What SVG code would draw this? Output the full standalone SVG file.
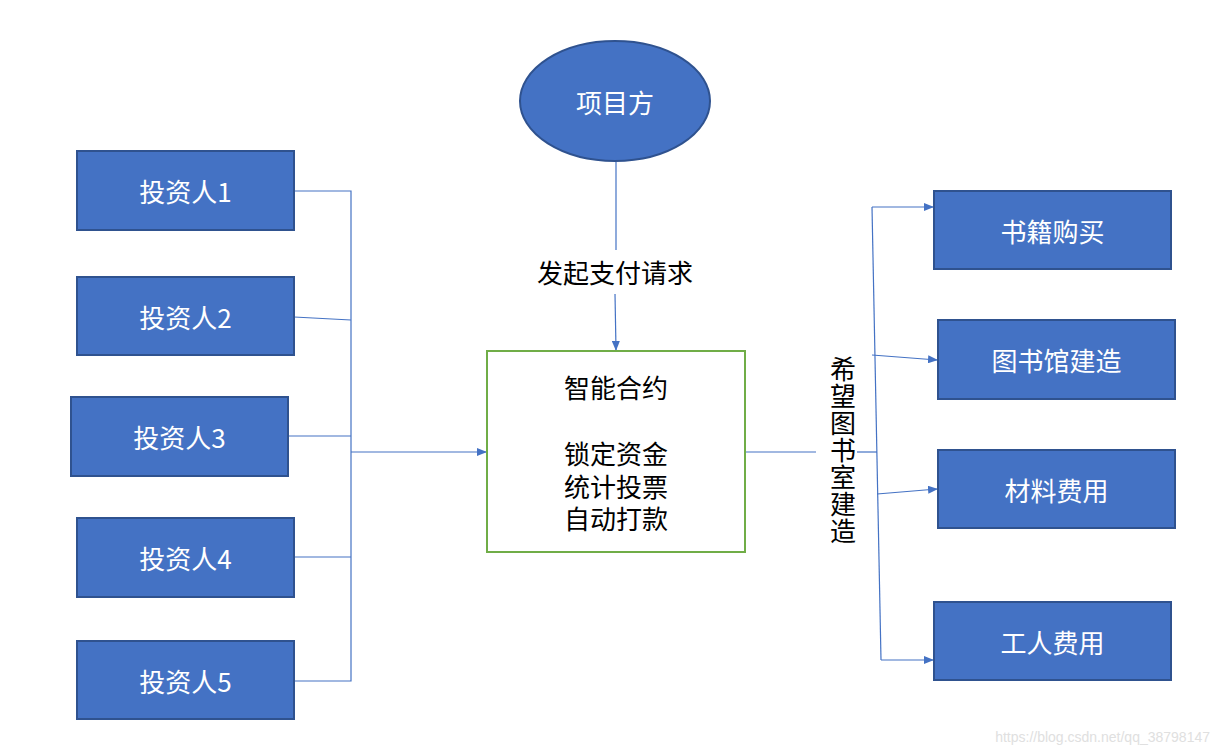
<svg xmlns="http://www.w3.org/2000/svg" width="1220" height="755" viewBox="0 0 1220 755">
<defs>
<style>
.box{fill:#4472C4;stroke:#2F528F;stroke-width:2}
.wt{fill:#fff;font-family:"Noto Sans CJK SC","Liberation Sans",sans-serif;font-size:26px;text-anchor:middle;dominant-baseline:central}
.bt{fill:#000;font-family:"Noto Sans CJK SC","Liberation Sans",sans-serif;font-size:26px;text-anchor:middle;dominant-baseline:central}
.ln{stroke:#4472C4;stroke-width:1.2;fill:none}
.arr{marker-end:url(#ah)}
</style>
<marker id="ah" markerWidth="10" markerHeight="8" refX="9" refY="4" orient="auto" markerUnits="userSpaceOnUse">
<path d="M0,0 L10,4 L0,8 Z" fill="#4472C4"/>
</marker>
</defs>
<rect width="1220" height="755" fill="#fff"/>
<g id="connectors">
<path class="ln" d="M294,191 H351 V681 H294"/>
<path class="ln" d="M294,317 L351,320"/>
<path class="ln" d="M288,436 H351"/>
<path class="ln" d="M294,557 H351"/>
<path class="ln arr" d="M351,452 H486"/>
<path class="ln" d="M616,162 V250"/>
<path class="ln arr" d="M615,294 L616,350"/>
<path class="ln" d="M746,452 H816"/>
<path class="ln" d="M857,452 H877"/>
<path class="ln" d="M872,207 L881,660"/>
<path class="ln arr" d="M872,207 H933"/>
<path class="ln arr" d="M872,355 L937,360"/>
<path class="ln arr" d="M877,494 L937,489"/>
<path class="ln arr" d="M881,660 H933"/>
</g>
<g id="inv1"><rect class="box" x="77" y="151" width="217" height="79"/><text class="wt" x="185.500" y="190">投资人1</text></g>
<g id="inv2"><rect class="box" x="77" y="277" width="217" height="78"/><text class="wt" x="185.500" y="316">投资人2</text></g>
<g id="inv3"><rect class="box" x="71" y="397" width="217" height="79"/><text class="wt" x="179.500" y="436">投资人3</text></g>
<g id="inv4"><rect class="box" x="77" y="518" width="217" height="79"/><text class="wt" x="185.500" y="557">投资人4</text></g>
<g id="inv5"><rect class="box" x="77" y="641" width="217" height="78"/><text class="wt" x="185.500" y="680">投资人5</text></g>
<g id="project"><ellipse cx="615" cy="101" rx="95" ry="60" fill="#4472C4" stroke="#2F528F" stroke-width="2"/><text class="wt" x="615" y="101">项目方</text></g>
<g id="label-request"><text class="bt" x="615" y="271">发起支付请求</text></g>
<g id="contract">
<rect x="487" y="351" width="258" height="201" fill="#fff" stroke="#70AD47" stroke-width="2"/>
<text class="bt" x="616" y="386">智能合约</text>
<text class="bt" x="616" y="452">锁定资金<tspan x="616" dy="33">统计投票</tspan><tspan x="616" dy="32">自动打款</tspan></text>
</g>
<g id="label-build">
<text x="843" y="356" fill="#000" font-family="Noto Sans CJK SC, sans-serif" font-size="26" writing-mode="vertical-rl" letter-spacing="1">希望图书室建造</text>
</g>
<g id="books"><rect class="box" x="934" y="191" width="237" height="78"/><text class="wt" x="1052.500" y="230">书籍购买</text></g>
<g id="library"><rect class="box" x="938" y="320" width="237" height="79"/><text class="wt" x="1056.500" y="359">图书馆建造</text></g>
<g id="material"><rect class="box" x="938" y="450" width="237" height="78"/><text class="wt" x="1056.500" y="489">材料费用</text></g>
<g id="labor"><rect class="box" x="934" y="602" width="237" height="78"/><text class="wt" x="1052.500" y="641">工人费用</text></g>
<text x="1210" y="737" fill="#e0e0e0" font-family="Liberation Sans, sans-serif" font-size="14" text-anchor="end" dominant-baseline="central">https://blog.csdn.net/qq_38798147</text>
</svg>
